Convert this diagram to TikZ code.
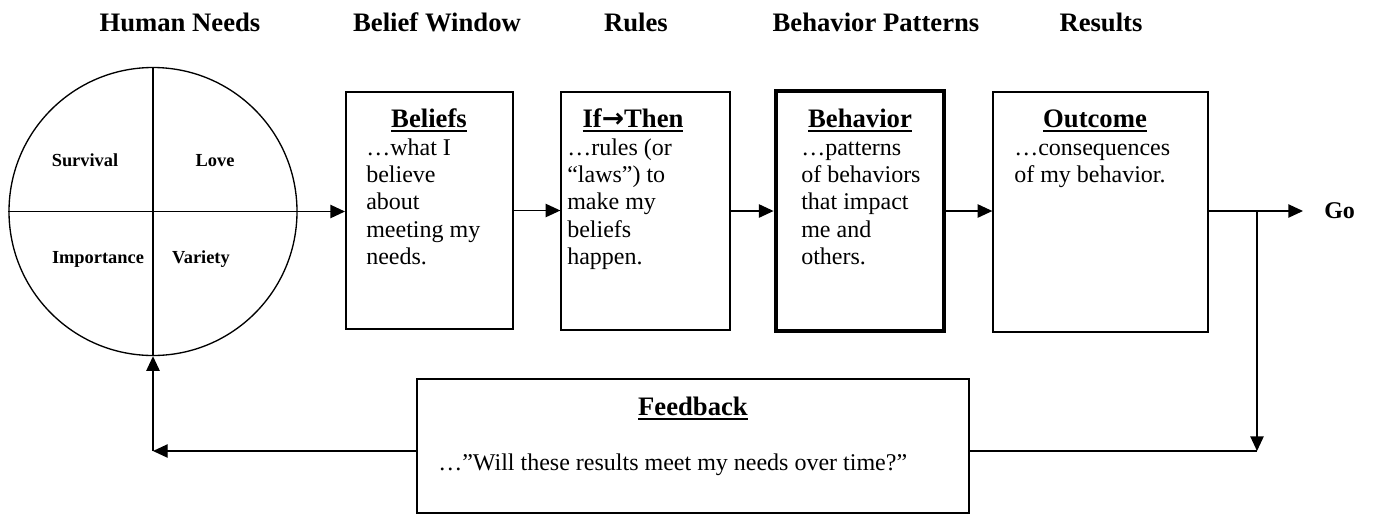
\documentclass[tikz,border=0pt]{standalone}
\usepackage{fontspec}
\setmainfont{Liberation Serif}
\newfontfamily\arrfont{DejaVu Sans}
\usetikzlibrary{arrows.meta}
\newsavebox\hdbox
\newcommand\hdul[1]{\sbox\hdbox{#1}\rlap{\rule[-3.6pt]{\wd\hdbox}{1.3pt}}\usebox\hdbox}
\tikzset{
  box/.style={draw, rectangle, line width=1pt, inner sep=0pt},
  ln/.style={line width=1pt},
  arr/.style={line width=1pt, -{Triangle[length=11pt,width=10pt]}},
  title/.style={font=\fontsize{20}{24}\selectfont\bfseries, inner sep=0pt, anchor=base},
  body/.style={font=\fontsize{18}{20.55}\selectfont, inner sep=0pt, anchor=base west},
  need/.style={font=\fontsize{13.8}{16}\selectfont\bfseries, inner sep=0pt, anchor=base},
}
\begin{document}
\begin{tikzpicture}[x=0.75pt,y=-0.75pt]
\useasboundingbox (0,0) rectangle (1373,515);
% titles
\node[title] (tneeds) at (180,31) {Human Needs};
\node[title] (tbelief) at (437,31) {Belief Window};
\node[title] (trules) at (636,31) {Rules};
\node[title] (tbehav) at (876,31) {Behavior Patterns};
\node[title] (tres) at (1101,31) {Results};
% circle of needs
\node[draw, circle, line width=1pt, minimum size=216pt, inner sep=0pt] (circ) at (153,211.5) {};
\draw[ln] (circ.north) -- (circ.south);
\draw[ln] (circ.west) -- (circ.east);
\node[need] (nsurv) at (85,166) {Survival};
\node[need] (nlove) at (215,166) {Love};
\node[need] (nimp) at (98,263) {Importance};
\node[need] (nvar) at (201,263) {Variety};
% boxes
\node[box, line width=1.5pt, minimum width=125.25pt, minimum height=177.75pt] (b1) at (429.5,210.5) {};
\node[box, minimum width=126.75pt, minimum height=178.5pt] (b2) at (645.5,211) {};
\node[box, line width=3.6pt, minimum width=126pt, minimum height=180pt] (b3) at (860,211) {};
\node[box, minimum width=161.25pt, minimum height=180pt] (b4) at (1100.5,212) {};
\node[box, minimum width=414pt, minimum height=100.5pt] (fb) at (693,446) {};
% headings
\node[title] (h1) at (429,127) {\hdul{Beliefs}};
\node[title] (h2) at (633,127) {\hdul{If{\arrfont\bfseries →}Then}};
\node[title] (h3) at (860,127) {\hdul{Behavior}};
\node[title] (h4) at (1095,127) {\hdul{Outcome}};
\node[title] (h5) at (693,415) {\hdul{Feedback}};
% body texts
\foreach \t [count=\i] in {…what I,believe,about,meeting my,needs.}
  \node[body] (xa\i) at (366,{155+27.4*(\i-1)}) {\t};
\foreach \t [count=\i] in {…rules (or,“laws”) to,make my,beliefs,happen.}
  \node[body] (xb\i) at (567,{155+27.4*(\i-1)}) {\t};
\foreach \t [count=\i] in {…patterns,of behaviors,that impact,me and,others.}
  \node[body] (xc\i) at (801,{155+27.4*(\i-1)}) {\t};
\foreach \t [count=\i] in {…consequences,of my behavior.}
  \node[body] (xd\i) at (1014,{155+27.4*(\i-1)}) {\t};
\node[body] (xe) at (438,470) {…”Will these results meet my needs over time?”};
% Go
\node[font=\fontsize{18}{20}\selectfont\bfseries, anchor=west, inner sep=0pt, inner xsep=15.75pt] (go) at (1303,211) {Go};
% connectors
\draw[arr] (circ.east) -- (circ.east -| b1.west);
\draw[arr] (b1.east) -- (b1.east -| b2.west);
\draw[arr] (b2.east) -- (b2.east -| b3.west);
\draw[arr] (b3.east) -- (b3.east -| b4.west);
\draw[arr] (go.west -| b4.east) -- (go.west);
\coordinate (sr) at (1257,211);
\coordinate (cr) at (1257,451);
\coordinate (cl) at (153,451);
\draw[arr] (sr) -- (cr);
\draw[ln] (cr) -- (cr -| fb.east);
\draw[arr] (cl -| fb.west) -- (cl);
\draw[arr] (cl) -- (circ.south);
\end{tikzpicture}
\end{document}
